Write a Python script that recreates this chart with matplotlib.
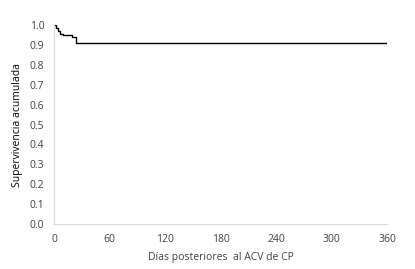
import matplotlib
matplotlib.use("Agg")
import matplotlib.pyplot as plt

# Kaplan-Meier style step data
dias = [0, 2, 4, 7, 10, 19, 24, 360]
supervivencia = [1.0, 0.985, 0.97, 0.955, 0.95, 0.94, 0.91, 0.91]
xticks = [0, 60, 120, 180, 240, 300, 360]
yticks = [0.0, 0.1, 0.2, 0.3, 0.4, 0.5, 0.6, 0.7, 0.8, 0.9, 1.0]

plt.rcParams['font.family'] = ['Open Sans', 'DejaVu Sans']

fig = plt.figure(figsize=(4.15, 2.69), dpi=100)
ax = fig.add_axes([0.13, 0.167, 0.803, 0.74])
ax.step(dias, supervivencia, where="post", color="black", lw=1.0)

ax.set_xlim(0, 360)
ax.set_ylim(0, 1.0)
ax.set_xticks(xticks)
ax.set_yticks(yticks)
ax.set_yticklabels([f"{v:.1f}" for v in yticks])
ax.tick_params(length=0, labelsize=7.5, colors="#404040", pad=7)
for s in ["top", "right"]:
    ax.spines[s].set_visible(False)
for s in ["left", "bottom"]:
    ax.spines[s].set_color("#d9d9d9")
    ax.spines[s].set_linewidth(0.8)

ax.set_xlabel("Días posteriores  al ACV de CP", fontsize=7.5, color="#404040", labelpad=5)
ax.set_ylabel("Supervivencia acumulada", fontsize=7.5, color="black", labelpad=5)

fig.savefig("out.png", dpi=100)
